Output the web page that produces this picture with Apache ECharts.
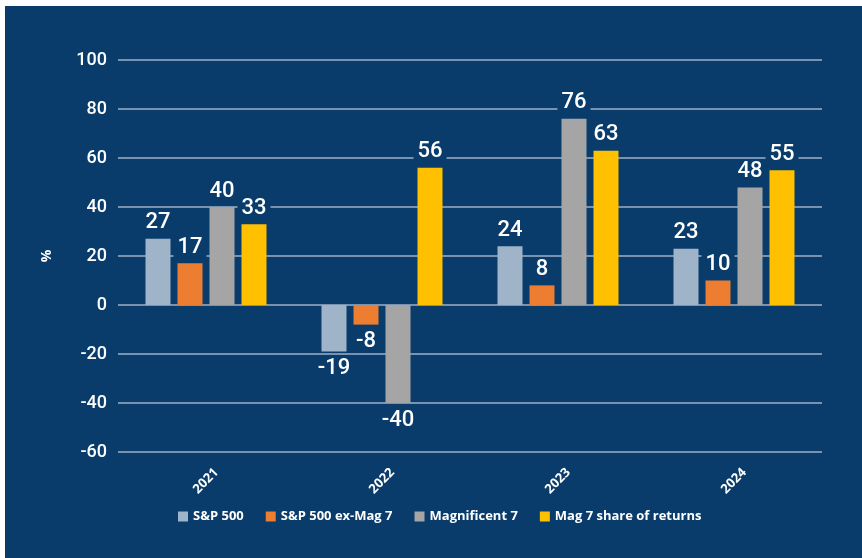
<!DOCTYPE html>
<html>
<head>
<meta charset="utf-8">
<script src="https://cdn.jsdelivr.net/npm/echarts@6/dist/echarts.min.js"></script>
<style>
html,body{margin:0;padding:0;background:#ffffff;}
#chart{width:862px;height:558px;}
</style>
</head>
<body>
<div id="chart"></div>
<script>
const categories = ['2021', '2022', '2023', '2024'];
const sp500 = [27, -19, 24, 23];
const spExMag7 = [17, -8, 8, 10];
const magnificent7 = [40, -40, 76, 48];
const mag7Share = [33, 56, 63, 55];
const seriesNames = ['S&P 500', 'S&P 500 ex-Mag 7', 'Magnificent 7', 'Mag 7 share of returns'];
const yTicks = [-60, -40, -20, 0, 20, 40, 60, 80, 100];

const BG = '#093c6b';
const colors = ['#9fb4c9', '#ed7d31', '#a5a5a5', '#ffc000'];
const numFont = 'Roboto, "Liberation Sans", sans-serif';

function toData(arr) {
  return arr.map(v => ({
    value: v,
    label: { position: v < 0 ? 'bottom' : 'top' }
  }));
}

const chart = echarts.init(document.getElementById('chart'));
const allSeries = [sp500, spExMag7, magnificent7, mag7Share];

chart.setOption({
  backgroundColor: '#ffffff',
  animation: false,
  graphic: [{
    type: 'rect',
    z: -10,
    silent: true,
    shape: { x: 5, y: 6, width: 857, height: 552 },
    style: { fill: BG }
  }],
  color: colors,
  grid: { left: 118, right: 40, top: 60, bottom: 106, containLabel: false },
  legend: {
    bottom: 30,
    left: 173,
    itemWidth: 10,
    itemHeight: 10,
    itemGap: 22,
    icon: 'rect',
    textStyle: { color: '#ffffff', fontSize: 13, fontWeight: 'bold', fontFamily: '"Open Sans", sans-serif' },
    data: seriesNames
  },
  xAxis: {
    type: 'category',
    data: categories,
    axisLine: { show: false, onZero: false },
    axisTick: { show: false },
    axisLabel: {
      color: '#ffffff',
      fontSize: 13,
      fontWeight: 'bold',
      fontFamily: '"Open Sans", sans-serif',
      rotate: 45,
      align: 'center',
      verticalAlign: 'middle',
      margin: 29
    }
  },
  yAxis: {
    type: 'value',
    min: yTicks[0],
    max: yTicks[yTicks.length - 1],
    interval: 20,
    name: '%',
    nameLocation: 'middle',
    nameRotate: 90,
    nameGap: 64,
    nameTextStyle: { color: '#ffffff', fontSize: 14, fontWeight: 'bold', fontFamily: '"Open Sans", sans-serif' },
    axisLine: { show: false },
    axisTick: { show: false },
    axisLabel: {
      color: '#ffffff',
      fontSize: 18,
      fontWeight: 500,
      fontFamily: numFont,
      margin: 11
    },
    splitLine: { lineStyle: { color: '#9db1c7', width: 1.5 } }
  },
  series: allSeries.map((arr, i) => ({
    name: seriesNames[i],
    type: 'bar',
    barWidth: 25,
    barGap: '28%',
    data: toData(arr),
    itemStyle: { color: colors[i] },
    label: {
      show: true,
      color: '#ffffff',
      fontSize: 22,
      fontWeight: 500,
      fontFamily: numFont,
      distance: 5,
      backgroundColor: BG,
      padding: [1, 4, 0, 4]
    }
  }))
});
</script>
</body>
</html>
